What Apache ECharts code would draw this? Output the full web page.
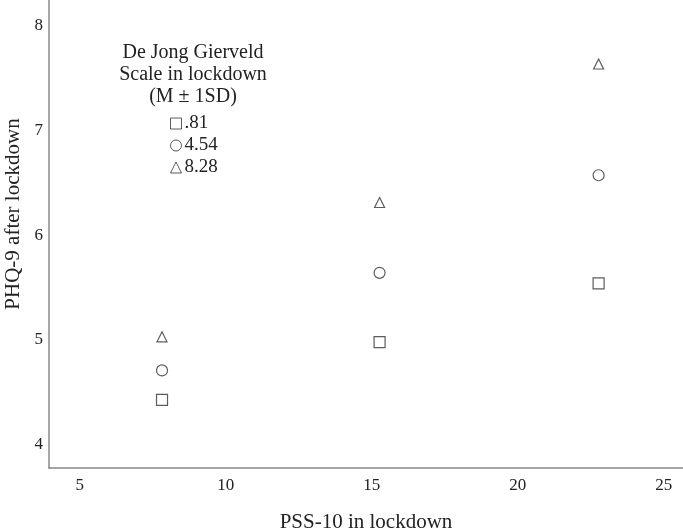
<!DOCTYPE html>
<html>
<head>
<meta charset="utf-8">
<script src="https://cdn.jsdelivr.net/npm/echarts@6/dist/echarts.min.js"></script>
<style>
  html, body { margin: 0; padding: 0; background: #fff; }
  #chart { width: 683px; height: 528px; }
</style>
</head>
<body>
<div id="chart"></div>
<script>
  // PSS-10 at M - 1SD, M, M + 1SD
  const pssLevels = [7.82, 15.27, 22.77];
  // PHQ-9 estimates per loneliness level
  const lowLoneliness = [4.43, 4.98, 5.54];
  const midLoneliness = [4.71, 5.64, 6.57];
  const highLoneliness = [5.03, 6.31, 7.63];
  const seriesNames = ['.81', '4.54', '8.28'];
  const xTicks = [5, 10, 15, 20, 25];
  const yTicks = [4, 5, 6, 7, 8];

  const serif = 'Liberation Serif';
  const pair = (ys) => pssLevels.map((x, i) => [x, ys[i]]);

  const makeSeries = (name, ys, symbol, size) => ({
    name: name,
    type: 'scatter',
    symbol: symbol,
    symbolSize: size,
    data: pair(ys),
    itemStyle: { color: '#fff', borderColor: '#333', borderWidth: 1.2 },
    emphasis: { disabled: true },
  });

  const chart = echarts.init(document.getElementById('chart'));

  chart.setOption({
    animation: false,
    grid: { left: 49, right: 0, top: 0, bottom: 60, outerBoundsMode: 'none', containLabel: false },
    title: {
      text: 'De Jong Gierveld\nScale in lockdown\n(M ± 1SD)',
      left: 193,
      top: 42,
      padding: 0,
      textAlign: 'center',
      textStyle: {
        fontFamily: serif,
        fontSize: 20,
        fontWeight: 'normal',
        color: '#222',
        lineHeight: 22,
      },
    },
    legend: {
      orient: 'vertical',
      left: 170,
      top: 114,
      padding: 0,
      itemWidth: 11,
      itemHeight: 11,
      itemGap: 3,
      data: seriesNames,
      itemStyle: { borderWidth: 1 },
      textStyle: { fontFamily: serif, fontSize: 19, color: '#222', padding: [0, 0, 0, -2] },
    },
    xAxis: {
      type: 'value',
      min: 3.95,
      max: 25.66,
      name: 'PSS-10 in lockdown',
      nameLocation: 'middle',
      nameGap: 44,
      nameTextStyle: { fontFamily: serif, fontSize: 21, color: '#222' },
      axisLine: { lineStyle: { color: '#888', width: 1.5 } },
      axisTick: { show: false },
      splitLine: { show: false },
      axisLabel: {
        customValues: xTicks,
        margin: 9,
        fontFamily: serif,
        fontSize: 17,
        color: '#222',
      },
    },
    yAxis: {
      type: 'value',
      min: 3.78,
      max: 8.24,
      name: 'PHQ-9 after lockdown',
      nameLocation: 'middle',
      nameGap: 25,
      nameTextStyle: { fontFamily: serif, fontSize: 21, color: '#222', padding: [0, 0, 0, 40] },
      axisLine: { show: true, lineStyle: { color: '#888', width: 1.5 } },
      axisTick: { show: false },
      splitLine: { show: false },
      axisLabel: {
        customValues: yTicks,
        margin: 6,
        fontFamily: serif,
        fontSize: 17,
        color: '#222',
      },
    },
    series: [
      makeSeries(seriesNames[0], lowLoneliness, 'rect', 11),
      makeSeries(seriesNames[1], midLoneliness, 'circle', 11),
      makeSeries(seriesNames[2], highLoneliness, 'triangle', 10),
    ],
  });
</script>
</body>
</html>
